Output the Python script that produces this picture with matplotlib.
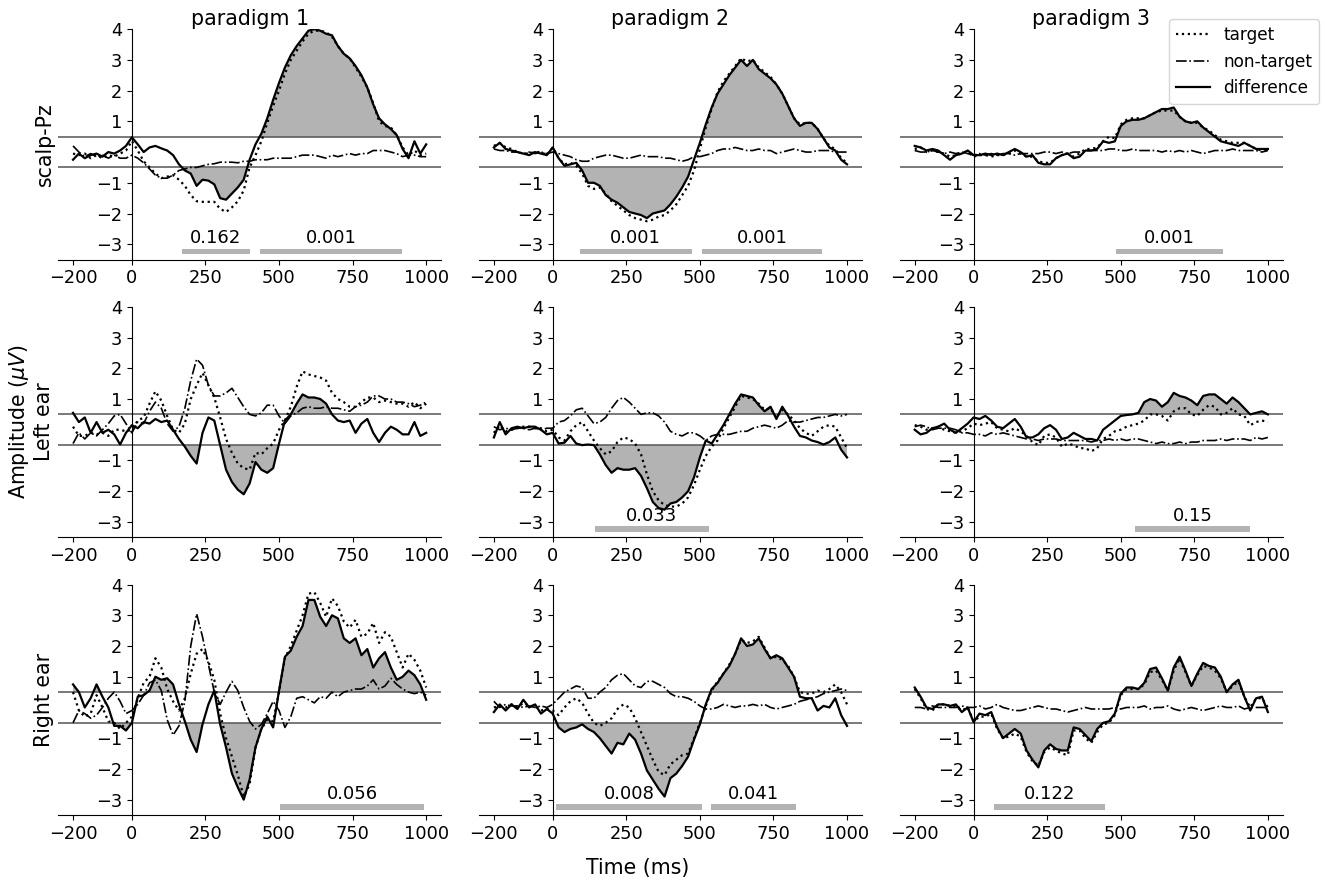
import numpy as np
import matplotlib.pyplot as plt

# time axis (ms), one value every 20 ms
times = np.arange(-200, 1001, 20)

# ---- scalp-Pz ----
pz_p1_target = [-0.05, -0.1, -0.05, -0.2, -0.1, -0.2, -0.1, -0.15, -0.05, 0.05,
                0.36, 0.05, -0.3, -0.5, -0.7, -0.85, -0.8, -0.75, -0.9, -1.1,
                -1.4, -1.6, -1.62, -1.62, -1.62, -1.85, -1.95, -1.8, -1.6, -1.25,
                -0.5, -0.1, 0.35, 0.95, 1.5, 2.0, 2.55, 3.0, 3.3, 3.6,
                3.85, 3.95, 3.95, 3.9, 3.75, 3.45, 3.2, 3.05, 2.75, 2.45,
                2.1, 1.6, 1.0, 0.85, 0.8, 0.55, 0.15, -0.1, 0.05, -0.1,
                -0.05]
pz_p1_nontarget = [0.2, 0.0, -0.15, -0.05, -0.15, -0.1, -0.2, -0.1, -0.2, -0.2,
                   -0.1, -0.2, -0.35, -0.55, -0.75, -0.85, -0.85, -0.75, -0.6, -0.55,
                   -0.5, -0.5, -0.45, -0.4, -0.38, -0.33, -0.33, -0.33, -0.35, -0.3,
                   -0.3, -0.25, -0.25, -0.25, -0.2, -0.2, -0.2, -0.2, -0.15, -0.1,
                   -0.1, -0.1, -0.15, -0.2, -0.1, -0.15, -0.1, -0.05, -0.1, -0.05,
                   -0.05, 0.05, 0.05, 0.05, 0.0, -0.05, -0.15, -0.1, -0.1, -0.15,
                   -0.15]
pz_p1_diff = [-0.25, -0.05, -0.2, -0.1, -0.05, -0.15, 0.0, -0.05, 0.05, 0.2,
              0.48, 0.25, 0.0, 0.15, 0.2, 0.12, 0.05, -0.1, -0.4, -0.6,
              -0.7, -1.1, -0.9, -0.93, -1.05, -1.5, -1.55, -1.35, -1.15, -0.9,
              -0.25, 0.25, 0.6, 1.1, 1.7, 2.25, 2.75, 3.15, 3.45, 3.7,
              3.95, 4.0, 3.95, 3.85, 3.8, 3.45, 3.2, 3.05, 2.8, 2.5,
              2.1, 1.55, 1.1, 0.9, 0.75, 0.55, 0.1, -0.2, 0.35, -0.05,
              0.25]

pz_p2_target = [0.2, 0.3, 0.15, 0.1, 0.0, -0.05, -0.05, 0.0, 0.0, -0.1,
                0.15, -0.2, -0.4, -0.35, -0.45, -0.7, -1.1, -1.2, -1.15, -1.35,
                -1.6, -1.75, -1.9, -2.05, -2.15, -2.2, -2.25, -2.2, -2.1, -2.05,
                -1.9, -1.7, -1.4, -1.1, -0.6, 0.1, 0.8, 1.4, 1.95, 2.3,
                2.55, 2.8, 3.05, 2.95, 3.0, 2.75, 2.6, 2.45, 2.2, 1.9,
                1.5, 1.1, 0.9, 0.95, 0.95, 0.75, 0.45, 0.2, 0.1, -0.2,
                -0.35]
pz_p2_nontarget = [0.1, 0.05, 0.05, 0.0, 0.0, -0.05, 0.0, -0.05, 0.0, -0.05,
                   0.0, -0.05, -0.1, -0.15, -0.25, -0.3, -0.3, -0.2, -0.15, -0.1,
                   -0.1, -0.15, -0.2, -0.2, -0.15, -0.1, -0.15, -0.15, -0.15, -0.2,
                   -0.2, -0.25, -0.3, -0.25, -0.15, -0.15, -0.1, -0.05, 0.05, 0.1,
                   0.1, 0.15, 0.1, 0.05, 0.05, 0.1, 0.05, 0.05, -0.05, 0.0,
                   0.05, 0.1, 0.05, 0.0, 0.0, 0.05, 0.05, 0.05, 0.0, 0.0,
                   0.0]
pz_p2_diff = [0.15, 0.3, 0.1, 0.05, 0.0, -0.05, -0.1, 0.0, -0.05, -0.1,
              0.15, -0.2, -0.45, -0.4, -0.35, -0.6, -1.0, -1.0, -1.1, -1.4,
              -1.55, -1.65, -1.8, -1.95, -2.0, -2.05, -2.15, -2.0, -1.95, -1.9,
              -1.7, -1.45, -1.15, -0.8, -0.25, 0.3, 0.9, 1.45, 1.9, 2.2,
              2.5, 2.75, 3.0, 2.8, 3.0, 2.7, 2.55, 2.4, 2.2, 1.9,
              1.5, 1.1, 0.85, 0.95, 0.95, 0.75, 0.45, 0.15, 0.05, -0.25,
              -0.4]

pz_p3_target = [0.1, 0.15, 0.0, 0.05, 0.0, -0.05, -0.15, -0.1, -0.05, 0.0,
                -0.15, -0.1, -0.1, -0.15, -0.1, -0.1, -0.05, 0.05, -0.05, -0.15,
                -0.15, -0.3, -0.35, -0.35, -0.2, -0.1, -0.05, -0.15, -0.05, 0.1,
                0.1, 0.15, 0.35, 0.5, 0.45, 0.9, 1.05, 1.1, 1.1, 1.1,
                1.2, 1.3, 1.35, 1.35, 1.35, 1.15, 1.0, 0.95, 0.95, 0.8,
                0.7, 0.55, 0.4, 0.35, 0.3, 0.3, 0.3, 0.2, 0.1, 0.05,
                0.05]
pz_p3_nontarget = [0.05, 0.0, 0.0, 0.05, 0.0, -0.05, 0.0, -0.05, 0.0, -0.05,
                   -0.1, -0.05, -0.1, -0.05, -0.1, -0.05, -0.05, -0.1, -0.05, -0.05,
                   -0.05, -0.05, 0.0, 0.0, -0.05, 0.0, -0.05, 0.0, 0.0, 0.05,
                   0.05, 0.05, 0.05, 0.1, 0.1, 0.05, 0.05, 0.1, 0.05, 0.05,
                   0.05, 0.05, 0.0, 0.05, 0.0, 0.05, 0.0, 0.05, 0.0, -0.05,
                   0.0, 0.05, 0.05, 0.05, 0.1, 0.05, 0.05, 0.05, 0.05, 0.0,
                   0.05]
pz_p3_diff = [0.2, 0.15, 0.05, 0.1, 0.05, -0.1, -0.25, -0.1, -0.05, 0.05,
              -0.1, -0.1, -0.05, -0.1, -0.05, -0.1, 0.0, 0.1, 0.0, -0.15,
              -0.1, -0.35, -0.4, -0.4, -0.2, -0.1, -0.05, -0.2, -0.15, 0.05,
              0.05, 0.1, 0.35, 0.3, 0.35, 0.85, 1.0, 1.05, 1.05, 1.1,
              1.2, 1.3, 1.4, 1.4, 1.45, 1.15, 1.0, 0.95, 1.0, 0.8,
              0.65, 0.5, 0.35, 0.3, 0.25, 0.2, 0.3, 0.2, 0.1, 0.1,
              0.1]

# ---- left ear ----
le_p1_target = [0.1, -0.2, -0.2, -0.1, -0.15, -0.1, -0.2, 0.0, 0.0, -0.05,
                0.0, 0.3, 0.4, 0.85, 1.25, 0.95, 0.45, 0.0, -0.1, 0.2,
                1.0, 1.45, 1.85, 1.45, 1.05, 0.4, -0.3, -0.75, -1.1, -1.25,
                -1.3, -0.75, -0.8, -0.6, -0.45, 0.0, 0.3, 0.75, 1.4, 1.9,
                1.8, 1.75, 1.7, 1.6, 1.2, 1.0, 0.9, 0.75, 0.75, 0.9,
                1.05, 1.05, 0.9, 0.95, 0.9, 0.85, 0.85, 0.75, 0.9, 0.7,
                0.85]
le_p1_nontarget = [-0.45, -0.1, -0.3, -0.1, -0.2, 0.0, 0.2, 0.45, 0.5, 0.2,
                   -0.1, 0.25, 0.2, 0.6, 0.9, 0.7, 0.2, -0.05, 0.1, 0.7,
                   1.6, 2.3, 2.1, 1.45, 1.1, 1.1, 1.2, 1.35, 1.05, 0.75,
                   0.5, 0.45, 0.55, 0.8, 0.8, 0.45, 0.2, 0.45, 0.55, 0.7,
                   0.75, 0.7, 0.7, 0.75, 0.7, 0.7, 0.65, 0.6, 0.75, 0.8,
                   0.9, 1.1, 1.1, 1.0, 1.0, 0.9, 0.9, 0.85, 0.75, 0.8,
                   0.9]
le_p1_diff = [0.55, 0.25, 0.4, -0.1, 0.25, -0.1, 0.0, -0.15, -0.48, -0.1,
              0.15, 0.05, 0.25, 0.2, 0.35, 0.25, 0.3, 0.0, -0.3, -0.55,
              -0.85, -1.1, -0.1, 0.4, 0.3, -0.5, -1.3, -1.7, -1.95, -2.1,
              -1.75, -1.05, -1.3, -1.4, -1.25, -0.45, 0.3, 0.5, 0.85, 1.15,
              1.05, 1.05, 1.0, 0.85, 0.5, 0.3, 0.25, 0.3, -0.1, 0.2,
              0.35, -0.1, -0.4, -0.1, 0.1, 0.0, -0.15, -0.15, 0.25, -0.2,
              -0.1]

le_p2_target = [-0.1, 0.15, -0.05, 0.0, 0.05, 0.1, 0.1, 0.05, 0.05, -0.05,
                0.0, -0.25, -0.35, -0.05, 0.15, 0.25, -0.05, -0.35, -0.6, -0.8,
                -0.7, -0.4, -0.25, -0.3, -0.45, -0.8, -1.45, -2.0, -2.3, -2.45,
                -2.5, -2.5, -2.4, -2.2, -1.8, -1.3, -0.85, -0.55, -0.35, 0.05,
                0.4, 0.75, 1.1, 1.05, 1.0, 0.85, 0.65, 0.7, 0.4, 0.65,
                0.5, 0.3, 0.05, -0.1, -0.2, -0.05, 0.1, 0.15, 0.1, -0.25,
                -0.6]
le_p2_nontarget = [0.1, 0.0, 0.05, 0.0, 0.05, 0.05, 0.0, 0.05, 0.0, 0.05,
                   0.05, 0.25, 0.3, 0.45, 0.65, 0.7, 0.45, 0.2, 0.25, 0.4,
                   0.7, 0.95, 1.05, 0.9, 0.7, 0.5, 0.55, 0.55, 0.45, 0.25,
                   -0.05, -0.15, -0.2, -0.1, -0.1, -0.2, -0.35, -0.2, -0.15, -0.15,
                   -0.15, -0.1, -0.05, -0.05, 0.05, 0.1, 0.15, 0.1, 0.05, 0.15,
                   0.3, 0.25, 0.25, 0.3, 0.35, 0.4, 0.4, 0.45, 0.5, 0.45,
                   0.5]
le_p2_diff = [-0.25, 0.25, -0.15, 0.05, 0.1, 0.05, 0.1, 0.1, 0.0, -0.15,
              -0.1, -0.45, -0.42, -0.2, -0.45, -0.5, -0.48, -0.5, -0.8, -1.15,
              -1.4, -1.25, -1.3, -1.3, -1.25, -1.5, -1.9, -2.35, -2.55, -2.6,
              -2.4, -2.35, -2.2, -2.0, -1.55, -0.9, -0.35, -0.45, -0.15, 0.15,
              0.5, 0.85, 1.15, 1.1, 1.05, 0.8, 0.6, 0.75, 0.35, 0.75,
              0.45, 0.1, -0.2, -0.25, -0.35, -0.4, -0.48, -0.4, -0.25, -0.65,
              -0.9]

le_p3_target = [0.15, 0.1, 0.0, 0.05, 0.1, 0.0, -0.05, -0.1, -0.05, 0.05,
                0.2, 0.15, 0.2, 0.25, 0.05, 0.0, -0.05, 0.05, -0.05, -0.2,
                -0.4, -0.5, -0.2, -0.15, -0.25, -0.55, -0.45, -0.5, -0.6, -0.6,
                -0.7, -0.6, -0.3, -0.2, -0.05, 0.0, 0.1, 0.15, 0.2, 0.3,
                0.5, 0.5, 0.45, 0.3, 0.6, 0.7, 0.7, 0.5, 0.45, 0.65,
                0.8, 0.75, 0.5, 0.55, 0.7, 0.5, 0.45, 0.15, 0.25, 0.3,
                0.25]
le_p3_nontarget = [0.1, 0.15, 0.1, 0.0, 0.05, 0.05, 0.05, 0.0, -0.1, -0.1,
                   -0.15, -0.15, -0.2, -0.1, -0.15, -0.1, -0.15, -0.2, -0.25, -0.3,
                   -0.3, -0.35, -0.3, -0.3, -0.3, -0.35, -0.35, -0.35, -0.35, -0.35,
                   -0.4, -0.35, -0.35, -0.3, -0.35, -0.3, -0.35, -0.3, -0.3, -0.35,
                   -0.4, -0.45, -0.4, -0.45, -0.45, -0.4, -0.45, -0.4, -0.4, -0.35,
                   -0.35, -0.35, -0.3, -0.35, -0.3, -0.3, -0.3, -0.35, -0.25, -0.3,
                   -0.25]
le_p3_diff = [0.0, -0.15, -0.1, 0.05, 0.1, 0.2, 0.0, -0.1, 0.05, 0.2,
              0.4, 0.35, 0.45, 0.3, 0.1, 0.05, 0.2, 0.35, 0.1, -0.25,
              -0.25, -0.15, 0.05, 0.15, 0.0, -0.3, -0.25, -0.1, -0.2, -0.3,
              -0.3, -0.35, 0.0, 0.15, 0.3, 0.45, 0.48, 0.5, 0.55, 0.9,
              1.0, 0.95, 0.75, 0.9, 1.2, 1.1, 1.05, 0.95, 0.8, 1.1,
              1.15, 1.15, 1.0, 0.85, 1.05, 0.9, 0.7, 0.5, 0.55, 0.6,
              0.5]

# ---- right ear ----
re_p1_target = [0.5, -0.1, -0.3, -0.2, 0.4, 0.0, -0.45, -0.5, -0.7, -0.5,
                -0.3, 0.3, 0.8, 1.0, 1.6, 1.3, 0.6, 0.2, -0.1, 0.3,
                1.1, 1.75, 1.9, 1.5, 0.9, -0.2, -1.0, -1.6, -2.2, -2.9,
                -2.5, -1.3, -0.7, -0.4, -0.45, 0.5, 1.6, 2.0, 2.5, 3.0,
                3.7, 3.75, 3.4, 2.95, 3.55, 3.3, 2.8, 2.6, 2.85, 2.3,
                2.4, 2.75, 2.1, 2.45, 2.3, 1.8, 1.3, 1.75, 1.55, 1.2,
                0.65]
re_p1_nontarget = [-0.5, -0.1, -0.2, -0.35, -0.25, 0.0, 0.3, 0.5, 0.2, -0.2,
                   -0.1, 0.1, 0.4, 0.8, 0.9, 0.55, -0.4, -0.9, -0.6, 0.2,
                   2.0, 3.05, 2.3, 1.4, 0.5, 0.1, 0.5, 0.85, 0.55, 0.0,
                   -0.45, -0.7, -0.55, -0.2, 0.2, -0.1, -0.65, -0.3, 0.3, 0.35,
                   0.25, 0.15, 0.35, 0.3, 0.5, 0.35, 0.5, 0.55, 0.6, 0.6,
                   0.7, 0.9, 0.6, 0.7, 0.95, 0.75, 0.6, 0.5, 0.45, 0.5,
                   0.4]
re_p1_diff = [0.75, 0.5, 0.0, 0.3, 0.75, 0.35, 0.0, -0.6, -0.6, -0.75,
              -0.5, 0.35, 0.4, 0.55, 1.0, 0.9, 0.95, 0.75, 0.1, -0.45,
              -1.05, -1.45, -0.55, 0.1, 0.55, -0.55, -1.3, -2.15, -2.6, -3.0,
              -2.35, -1.3, -0.7, -0.3, -0.65, 0.55, 1.65, 1.85, 2.3, 2.65,
              3.5, 3.5, 2.95, 2.65, 3.0, 2.9, 2.25, 2.1, 2.25, 1.7,
              1.9, 1.3, 1.6, 1.8, 1.3, 0.9, 1.0, 1.2, 1.05, 0.75,
              0.25]

re_p2_target = [0.0, 0.05, 0.0, 0.1, 0.0, 0.15, 0.05, 0.05, -0.1, -0.05,
                -0.1, -0.25, 0.0, 0.2, 0.3, 0.15, -0.2, -0.5, -0.6, -0.5,
                -0.35, -0.05, 0.1, 0.0, -0.35, -0.8, -1.25, -1.7, -2.1, -2.2,
                -1.85, -1.7, -1.55, -1.5, -1.0, -0.5, 0.05, 0.55, 0.85, 1.1,
                1.4, 1.75, 2.2, 2.1, 2.15, 2.3, 1.95, 1.6, 1.65, 1.55,
                1.35, 1.0, 0.5, 0.45, 0.45, 0.55, 0.5, 0.6, 0.75, 0.5,
                0.1]
re_p2_nontarget = [0.2, 0.0, 0.1, 0.05, 0.05, 0.0, 0.05, 0.0, 0.05, 0.0,
                   0.1, 0.3, 0.5, 0.6, 0.7, 0.65, 0.3, 0.3, 0.5, 0.65,
                   0.9, 1.05, 1.1, 0.9, 0.7, 0.65, 0.85, 0.85, 0.75, 0.65,
                   0.45, 0.35, 0.35, 0.3, 0.2, 0.05, -0.05, -0.05, 0.0, 0.1,
                   0.05, 0.0, 0.05, 0.05, 0.1, 0.05, 0.1, 0.0, -0.05, 0.0,
                   0.05, 0.1, 0.2, 0.25, 0.3, 0.35, 0.45, 0.5, 0.55, 0.6,
                   0.55]
re_p2_diff = [-0.15, 0.1, -0.1, 0.1, -0.05, 0.25, 0.0, 0.1, -0.2, -0.05,
              -0.2, -0.65, -0.8, -0.7, -0.65, -0.55, -0.7, -0.8, -1.0, -1.25,
              -1.5, -1.15, -1.2, -0.85, -1.05, -1.5, -2.05, -2.35, -2.65, -2.9,
              -2.3, -2.15, -1.9, -1.6, -1.05, -0.55, 0.1, 0.6, 0.8, 1.1,
              1.35, 1.75, 2.25, 2.0, 2.05, 2.25, 1.9, 1.6, 1.7, 1.6,
              1.3, 1.0, 0.35, 0.3, 0.3, -0.1, 0.05, 0.0, 0.3, -0.25,
              -0.6]

re_p3_target = [0.6, 0.3, -0.05, -0.1, 0.1, 0.1, 0.05, 0.05, -0.1, 0.0,
                -0.45, -0.3, -0.3, -0.2, -0.7, -1.0, -0.95, -0.85, -0.95, -1.45,
                -1.75, -1.9, -1.45, -1.3, -1.4, -1.5, -1.55, -0.75, -0.75, -1.0,
                -1.15, -0.8, -0.55, -0.5, -0.25, 0.4, 0.6, 0.6, 0.6, 0.75,
                1.15, 1.2, 0.9, 0.55, 1.2, 1.6, 1.15, 0.7, 1.05, 1.35,
                1.3, 1.2, 0.95, 0.5, 0.7, 0.85, 0.35, 0.0, 0.3, 0.3,
                0.0]
re_p3_nontarget = [0.0, 0.0, -0.05, 0.05, 0.0, 0.0, 0.0, 0.0, 0.05, 0.0,
                   0.0, 0.05, -0.05, 0.0, 0.1, 0.0, -0.05, -0.1, -0.1, -0.05,
                   0.0, 0.05, 0.0, -0.05, -0.05, -0.1, -0.15, -0.1, -0.05, 0.0,
                   -0.05, -0.05, -0.05, -0.05, 0.0, -0.05, 0.0, 0.0, 0.0, 0.05,
                   -0.05, 0.0, 0.0, 0.05, -0.05, -0.1, -0.05, 0.0, -0.05, -0.1,
                   -0.05, 0.0, 0.05, 0.0, 0.0, 0.05, -0.05, 0.0, 0.0, 0.0,
                   0.0]
re_p3_diff = [0.65, 0.35, 0.0, -0.05, 0.1, 0.1, 0.05, 0.1, -0.15, 0.0,
              -0.48, -0.2, -0.25, -0.15, -0.65, -1.0, -0.85, -0.7, -0.85, -1.4,
              -1.7, -1.95, -1.4, -1.2, -1.35, -1.4, -1.4, -0.65, -0.7, -0.9,
              -1.1, -0.7, -0.5, -0.45, -0.2, 0.45, 0.65, 0.65, 0.6, 0.8,
              1.25, 1.3, 0.95, 0.55, 1.3, 1.65, 1.2, 0.7, 1.1, 1.45,
              1.35, 1.3, 1.0, 0.5, 0.75, 0.9, 0.35, -0.1, 0.3, 0.35,
              -0.15]

# significant clusters: (start ms, end ms, p-value)
pz_p1_clusters = [(170, 400, 0.162), (437, 917, 0.001)]
pz_p2_clusters = [(91, 473, 0.001), (508, 915, 0.001)]
pz_p3_clusters = [(485, 847, 0.001)]
le_p1_clusters = []
le_p2_clusters = [(142, 532, 0.033)]
le_p3_clusters = [(550, 940, 0.15)]
re_p1_clusters = [(505, 991, 0.056)]
re_p2_clusters = [(12, 507, 0.008), (539, 825, 0.041)]
re_p3_clusters = [(70, 445, 0.122)]

paradigms = ['paradigm 1', 'paradigm 2', 'paradigm 3']
row_labels = ['scalp-Pz', 'Amplitude ($\\mu V$)\nLeft ear', 'Right ear']
threshold = 0.5

panels = [
    [(pz_p1_target, pz_p1_nontarget, pz_p1_diff, pz_p1_clusters),
     (pz_p2_target, pz_p2_nontarget, pz_p2_diff, pz_p2_clusters),
     (pz_p3_target, pz_p3_nontarget, pz_p3_diff, pz_p3_clusters)],
    [(le_p1_target, le_p1_nontarget, le_p1_diff, le_p1_clusters),
     (le_p2_target, le_p2_nontarget, le_p2_diff, le_p2_clusters),
     (le_p3_target, le_p3_nontarget, le_p3_diff, le_p3_clusters)],
    [(re_p1_target, re_p1_nontarget, re_p1_diff, re_p1_clusters),
     (re_p2_target, re_p2_nontarget, re_p2_diff, re_p2_clusters),
     (re_p3_target, re_p3_nontarget, re_p3_diff, re_p3_clusters)],
]

fig, axes = plt.subplots(3, 3, figsize=(13.25, 8.83), dpi=100)
fig.subplots_adjust(left=0.044, right=0.968, bottom=0.077, top=0.967,
                    wspace=0.1, hspace=0.205)

for r in range(3):
    for c in range(3):
        ax = axes[r, c]
        target, nontarget, diff, clusters = panels[r][c]
        diff = np.array(diff)

        # shaded area where the difference leaves the +-threshold band
        ax.fill_between(times, diff, threshold, where=diff > threshold,
                        interpolate=True, color='#b3b3b3', lw=0, zorder=1)
        ax.fill_between(times, diff, -threshold, where=diff < -threshold,
                        interpolate=True, color='#b3b3b3', lw=0, zorder=1)
        ax.axhline(threshold, color='#555555', lw=1.1, zorder=2)
        ax.axhline(-threshold, color='#555555', lw=1.1, zorder=2)

        ax.plot(times, target, color='k', ls=':', lw=1.6, label='target', zorder=3)
        ax.plot(times, nontarget, color='k', ls='-.', lw=1.2, label='non-target', zorder=3)
        ax.plot(times, diff, color='k', ls='-', lw=1.6, label='difference', zorder=4)

        for start, end, p in clusters:
            ax.barh(-3.235, end - start, left=start, height=0.19,
                    color='#b3b3b3', zorder=2)
            ax.text((start + end) / 2, -3.1, str(p), ha='center', va='bottom',
                    fontsize=13)

        ax.set_xlim(-250, 1050)
        ax.set_ylim(-3.5, 4)
        ax.set_xticks([-200, 0, 250, 500, 750, 1000])
        ax.set_yticks([-3, -2, -1, 1, 2, 3, 4])
        ax.spines['left'].set_position(('data', 0))
        ax.spines['top'].set_visible(False)
        ax.spines['right'].set_visible(False)
        ax.tick_params(labelsize=12.8)

        if r == 0:
            ax.set_title(paradigms[c], fontsize=14.8, pad=1)
        if c == 0:
            ax.set_ylabel(row_labels[r], fontsize=14.8)
            ax.yaxis.set_label_coords(-0.01, 0.5)

axes[0, 2].legend(loc='upper right', bbox_to_anchor=(1.118, 1.079), fontsize=12.2)
fig.text(0.481, 0.017, 'Time (ms)', ha='center', va='center', fontsize=14.8)

plt.savefig('out.png', dpi=100)
